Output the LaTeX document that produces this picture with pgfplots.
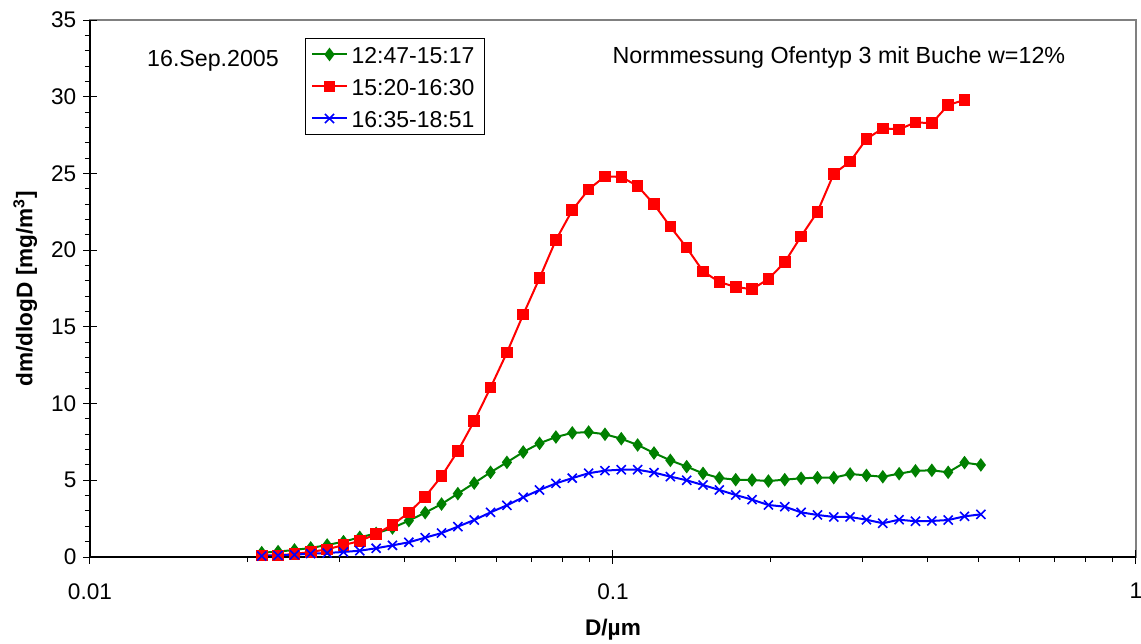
\documentclass[border=0pt]{standalone}
\usepackage{fontspec}
\setmainfont{Liberation Sans}
\usepackage{pgfplots}
\usepackage{pgfplotstable}
\pgfplotsset{compat=1.18}
\definecolor{cgreen}{RGB}{0,128,0}
\definecolor{cred}{RGB}{255,0,0}
\definecolor{cblue}{RGB}{0,0,255}
\definecolor{cgray}{RGB}{128,128,128}

\pgfplotstableread{
D        G     R      B
0.021300 0.28  0.11   0.07
0.022890 0.35  0.11   0.10
0.024600 0.46  0.20   0.15
0.026430 0.59  0.33   0.22
0.028410 0.78  0.50   0.26
0.030530 1.00  0.78   0.33
0.032800 1.28  1.04   0.41
0.035250 1.54  1.50   0.57
0.037880 1.89  2.10   0.76
0.040710 2.37  2.89   0.96
0.043740 2.89  3.93   1.26
0.047010 3.45  5.26   1.56
0.050510 4.13  6.91   1.98
0.054280 4.82  8.86   2.41
0.058330 5.52  11.04  2.91
0.062690 6.17  13.32  3.37
0.067360 6.84  15.80  3.89
0.072390 7.41  18.18  4.37
0.077790 7.82  20.66  4.80
0.083590 8.09  22.60  5.14
0.089830 8.14  23.96  5.46
0.096530 8.00  24.81  5.63
0.103730 7.71  24.77  5.69
0.111470 7.30  24.18  5.69
0.119790 6.78  22.99  5.50
0.128730 6.30  21.53  5.24
0.138330 5.89  20.16  5.00
0.148650 5.45  18.62  4.69
0.159740 5.15  17.92  4.37
0.171660 5.04  17.60  4.04
0.184470 5.02  17.45  3.74
0.198230 4.95  18.12  3.39
0.213020 5.04  19.21  3.28
0.228910 5.13  20.90  2.91
0.245990 5.17  22.49  2.74
0.264340 5.17  24.98  2.61
0.284060 5.41  25.77  2.61
0.305250 5.32  27.24  2.43
0.328020 5.23  27.94  2.20
0.352500 5.43  27.87  2.43
0.378800 5.62  28.33  2.33
0.407060 5.65  28.27  2.35
0.437430 5.52  29.46  2.41
0.470060 6.15  29.79  2.65
0.505130 6.00  nan    2.78
}\datatable

\begin{document}
\begin{tikzpicture}
\useasboundingbox (-45pt,-43pt) rectangle (525.5pt,278.5pt);
\begin{axis}[
  at={(0,0)}, anchor=south west,
  scale only axis, width=523pt, height=268.5pt,
  xmode=log, xmin=0.01, xmax=1, ymin=0, ymax=35,
  xtick={0.01,0.1,1}, xticklabels={0.01,0.1,1},
  ytick={0,5,...,35}, minor y tick num=4,
  tick pos=left,
  tick align=outside,
  major tick length=3.3pt, minor tick length=2.6pt,
  tick style={black, line width=0.5pt},
  extra x ticks={0.01,0.1,1}, extra x tick labels={},
  extra x tick style={tick align=inside, major tick length=3.6pt},
  extra y ticks={0,5,10,15,20,25,30,35}, extra y tick labels={},
  extra y tick style={tick align=inside, major tick length=3.6pt},
  axis line style={draw=cgray, line width=0.75pt},
  /pgf/number format/assume math mode=true,
  tick label style={font=\fontsize{11.3}{13}\selectfont},
  xticklabel style={yshift=-6.3pt},
  xlabel={\bfseries D/µm},
  ylabel={\bfseries dm/dlogD [mg/m\textsuperscript{3}]},
  xlabel style={font=\fontsize{11.3}{13}\selectfont, at={(axis description cs:0.5,-0.1345)}, anchor=center},
  ylabel style={font=\fontsize{11.3}{13}\selectfont, at={(axis description cs:-0.0618,0.5)}, anchor=center},
  legend style={at={(rel axis cs:0.2055,0.9665)}, anchor=north west, draw=black, line width=0.5pt,
    font=\fontsize{11.5}{13}\selectfont, legend cell align=left,
    inner ysep=0pt, row sep=0pt,
    nodes={inner ysep=0pt, text height=12.5pt, text depth=3.5pt}},
  clip=false,
]
\addplot[cgreen, line width=1pt, mark=diamond*, mark size=2.6pt, mark options={solid, fill=cgreen}] table[x=D, y=G] {\datatable};
\addlegendentry{12:47-15:17}
\addplot[cred, line width=1pt, mark=square*, mark size=2.4pt, mark options={solid, fill=cred}] table[x=D, y=R] {\datatable};
\addlegendentry{15:20-16:30}
\addplot[cblue, line width=1pt, mark=x, mark size=3.2pt, mark options={solid, line width=0.8pt}] table[x=D, y=B] {\datatable};
\addlegendentry{16:35-18:51}
\draw[black, line width=0.75pt] (rel axis cs:0,1) -- (rel axis cs:0,0) -- (rel axis cs:1,0);
\node[font=\fontsize{11.6}{13}\selectfont, anchor=center] at (rel axis cs:0.1176,0.9236) {16.Sep.2005};
\node[font=\fontsize{11.65}{13}\selectfont, anchor=center] at (rel axis cs:0.716,0.931) {Normmessung Ofentyp 3 mit Buche w=12\%};
\end{axis}
\end{tikzpicture}
\end{document}
